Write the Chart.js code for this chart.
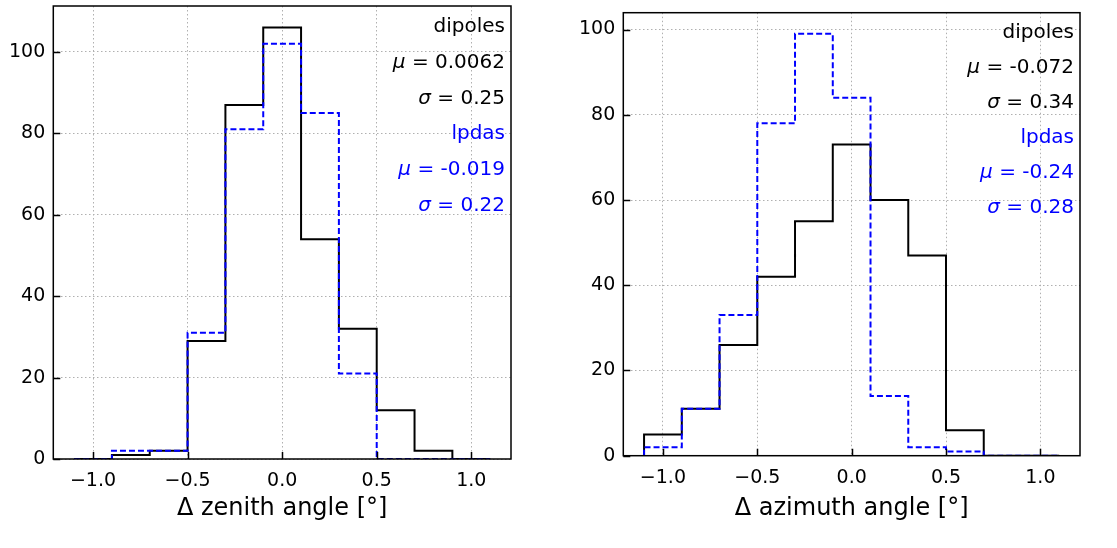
<!DOCTYPE html>
<html>
<head>
<meta charset="utf-8">
<script src="https://cdn.jsdelivr.net/npm/chart.js@4/dist/chart.umd.min.js"></script>
<style>
  html, body { margin: 0; padding: 0; background: #fff; }
  #wrap { position: relative; width: 1117px; height: 548px; }
  canvas { position: absolute; top: 0; }
</style>
</head>
<body>
<div id="wrap">
  <canvas id="zenithChart" style="left:0px"></canvas>
  <canvas id="azimuthChart" style="left:558px"></canvas>
</div>
<script>
// histogram bins (deg) and counts
const binEdges = [-1.1, -0.9, -0.7, -0.5, -0.3, -0.1, 0.1, 0.3, 0.5, 0.7, 0.9, 1.1];
const zenithDipoles = [0, 1, 2, 29, 87, 106, 54, 32, 12, 2, 0];
const zenithLpdas = [0, 2, 2, 31, 81, 102, 85, 21, 0, 0, 0];
const azimuthDipoles = [5, 11, 26, 42, 55, 73, 60, 47, 6, 0, 0];
const azimuthLpdas = [2, 11, 33, 78, 99, 84, 14, 2, 1, 0, 0];

const xTickValues = [-1.0, -0.5, 0.0, 0.5, 1.0];
const yTickValues = [0, 20, 40, 60, 80, 100];

const zenithNotes = ["dipoles", "μ = 0.0062", "σ = 0.25", "lpdas", "μ = -0.019", "σ = 0.22"];
const azimuthNotes = ["dipoles", "μ = -0.072", "σ = 0.34", "lpdas", "μ = -0.24", "σ = 0.28"];
const noteColors = ["#000000", "#000000", "#000000", "#0000ff", "#0000ff", "#0000ff"];

const FONT = "'DejaVu Sans', sans-serif";

function stepPoints(counts) {
  const pts = [{ x: binEdges[0], y: 0 }];
  counts.forEach((c, i) => {
    pts.push({ x: binEdges[i], y: c });
    pts.push({ x: binEdges[i + 1], y: c });
  });
  pts.push({ x: binEdges[binEdges.length - 1], y: 0 });
  return pts;
}

// frame, inward ticks and the stats text
const framePlugin = {
  id: "frame",
  afterDatasetsDraw(chart, args, opts) {
    const { ctx, chartArea: a, scales } = chart;
    ctx.save();
    ctx.strokeStyle = "#000";
    ctx.lineWidth = 1.5;
    ctx.beginPath();
    xTickValues.forEach((v) => {
      const px = Math.round(scales.x.getPixelForValue(v)) + 0.5;
      ctx.moveTo(px, a.bottom);
      ctx.lineTo(px, a.bottom - 7);
    });
    yTickValues.forEach((v) => {
      const py = Math.round(scales.y.getPixelForValue(v)) + 0.5;
      ctx.moveTo(a.left, py);
      ctx.lineTo(a.left + 7, py);
    });
    ctx.stroke();
    ctx.strokeRect(a.left, a.top, a.right - a.left, a.bottom - a.top);

    const h = a.bottom - a.top;
    const xr = a.right - 6;
    ctx.textBaseline = "alphabetic";
    opts.notes.forEach((t, k) => {
      const y = a.top + (0.057 + 0.0792 * k) * h;
      ctx.fillStyle = noteColors[k];
      if (t[0] === "μ" || t[0] === "σ") {
        const rest = t.slice(1);
        ctx.font = "20px " + FONT;
        const w2 = ctx.measureText(rest).width;
        ctx.textAlign = "right";
        ctx.fillText(rest, xr, y);
        ctx.font = "italic 20px " + FONT;
        const w1 = ctx.measureText(t[0]).width;
        ctx.textAlign = "left";
        ctx.fillText(t[0], xr - w2 - w1, y);
      } else {
        ctx.font = "20px " + FONT;
        ctx.textAlign = "right";
        ctx.fillText(t, xr, y);
      }
    });
    ctx.restore();
  },
};

function makeChart(id, width, dipoles, lpdas, title, notes, box) {
  const canvas = document.getElementById(id);
  canvas.width = width;
  canvas.height = 548;
  canvas.style.width = width + "px";
  canvas.style.height = "548px";
  const span = binEdges[binEdges.length - 1] - binEdges[0];
  const yMax = Math.max(...dipoles, ...lpdas) * 1.05;

  return new Chart(canvas.getContext("2d"), {
    type: "line",
    data: {
      datasets: [
        {
          label: "lpdas",
          data: stepPoints(lpdas),
          borderColor: "#0000ff",
          borderWidth: 2,
          borderDash: [6, 3],
          pointRadius: 0,
          fill: false,
          order: 0,
        },
        {
          label: "dipoles",
          data: stepPoints(dipoles),
          borderColor: "#000000",
          borderWidth: 2,
          pointRadius: 0,
          fill: false,
          order: 1,
        },
      ],
    },
    options: {
      responsive: false,
      animation: false,
      devicePixelRatio: 1,
      layout: {
        autoPadding: false,
        padding: { left: 0, top: box.top, right: box.right, bottom: 0 },
      },
      plugins: {
        legend: { display: false },
        tooltip: { enabled: false },
        frame: { notes: notes },
      },
      scales: {
        x: {
          type: "linear",
          min: binEdges[0] - span * 0.05,
          max: binEdges[binEdges.length - 1] + span * 0.05,
          afterFit: (s) => { s.height = box.xHeight; s.paddingLeft = 0; s.paddingRight = 0; },
          afterBuildTicks: (s) => { s.ticks = xTickValues.map((v) => ({ value: v })); },
          grid: { color: "#b0b0b0", lineWidth: 1, drawTicks: false },
          border: { display: false, dash: [1.5, 2.5] },
          ticks: {
            color: "#000",
            padding: 11,
            maxRotation: 0,
            font: { family: FONT, size: 19 },
            callback: (v) => v.toFixed(1).replace("-", "\u2212"),
          },
          title: {
            display: true,
            text: title,
            color: "#000",
            font: { family: FONT, size: 24 },
            padding: { top: 0, bottom: 25 },
          },
        },
        y: {
          min: 0,
          max: yMax,
          afterFit: (s) => { s.width = box.yWidth; s.paddingTop = 0; s.paddingBottom = 0; },
          afterBuildTicks: (s) => { s.ticks = yTickValues.map((v) => ({ value: v })); },
          grid: { color: "#b0b0b0", lineWidth: 1, drawTicks: false },
          border: { display: false, dash: [1.5, 2.5] },
          ticks: {
            color: "#000",
            padding: 8,
            font: { family: FONT, size: 19 },
            callback: (v) => String(v),
          },
        },
      },
    },
    plugins: [framePlugin],
  });
}

makeChart("zenithChart", 558, zenithDipoles, zenithLpdas, "\u0394 zenith angle [\u00b0]", zenithNotes,
  { top: 6, right: 47, yWidth: 53.3, xHeight: 89 });
makeChart("azimuthChart", 559, azimuthDipoles, azimuthLpdas, "\u0394 azimuth angle [\u00b0]", azimuthNotes,
  { top: 12.7, right: 37, yWidth: 65.3, xHeight: 92.3 });
</script>
</body>
</html>
